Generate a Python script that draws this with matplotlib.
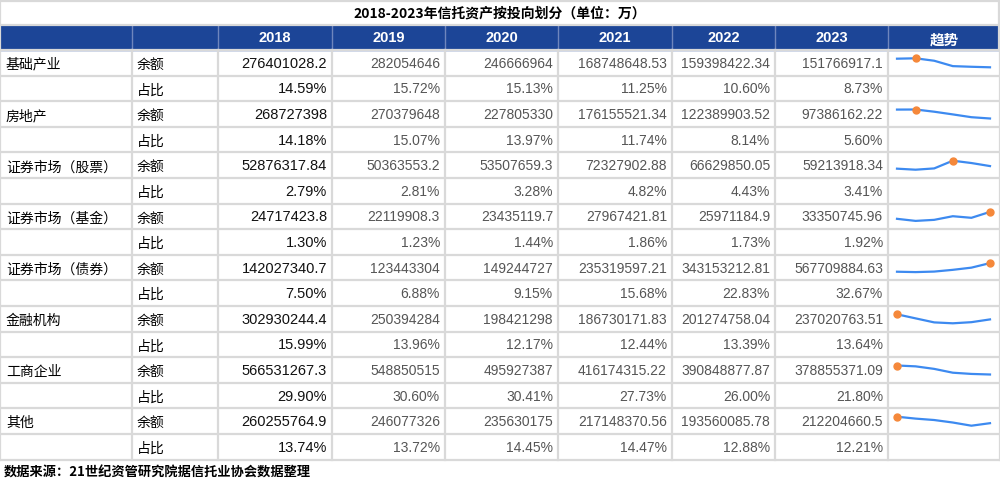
import matplotlib.pyplot as plt

years = ["2018", "2019", "2020", "2021", "2022", "2023"]
categories = ["基础产业", "房地产", "证券市场（股票）", "证券市场（基金）",
              "证券市场（债券）", "金融机构", "工商企业", "其他"]
amounts = [
    ["276401028.2", "282054646", "246666964", "168748648.53", "159398422.34", "151766917.1"],
    ["268727398", "270379648", "227805330", "176155521.34", "122389903.52", "97386162.22"],
    ["52876317.84", "50363553.2", "53507659.3", "72327902.88", "66629850.05", "59213918.34"],
    ["24717423.8", "22119908.3", "23435119.7", "27967421.81", "25971184.9", "33350745.96"],
    ["142027340.7", "123443304", "149244727", "235319597.21", "343153212.81", "567709884.63"],
    ["302930244.4", "250394284", "198421298", "186730171.83", "201274758.04", "237020763.51"],
    ["566531267.3", "548850515", "495927387", "416174315.22", "390848877.87", "378855371.09"],
    ["260255764.9", "246077326", "235630175", "217148370.56", "193560085.78", "212204660.5"],
]
shares = [
    ["14.59%", "15.72%", "15.13%", "11.25%", "10.60%", "8.73%"],
    ["14.18%", "15.07%", "13.97%", "11.74%", "8.14%", "5.60%"],
    ["2.79%", "2.81%", "3.28%", "4.82%", "4.43%", "3.41%"],
    ["1.30%", "1.23%", "1.44%", "1.86%", "1.73%", "1.92%"],
    ["7.50%", "6.88%", "9.15%", "15.68%", "22.83%", "32.67%"],
    ["15.99%", "13.96%", "12.17%", "12.44%", "13.39%", "13.64%"],
    ["29.90%", "30.60%", "30.41%", "27.73%", "26.00%", "21.80%"],
    ["13.74%", "13.72%", "14.45%", "14.47%", "12.88%", "12.21%"],
]

cjk = "Noto Sans CJK SC"
num = "Liberation Sans"
cols = [0, 132, 218, 332, 445, 558, 672, 775, 888, 1000]
top, rh = 50, 25.6
grid = "#d9d9d9"
blue = "#1c4597"

fig = plt.figure(figsize=(10, 4.84), dpi=100)
ax = fig.add_axes([0, 0, 1, 1])
ax.set_xlim(0, 1000)
ax.set_ylim(484, 0)
ax.axis("off")

ax.text(500, 14, "2018-2023年信托资产按投向划分（单位：万）", ha="center", va="center",
        fontsize=10, fontweight="bold", family=cjk)
ax.add_patch(plt.Rectangle((0, 25), 1000, 25, color=blue))
for i, y in enumerate(years):
    ax.text((cols[i + 2] + cols[i + 3]) / 2, 38, y, ha="center", va="center",
            color="white", fontsize=10.5, fontweight="bold", family=num)
ax.text((cols[8] + cols[9]) / 2, 39.5, "趋势", ha="center", va="center",
        color="white", fontsize=10.5, fontweight="bold", family=cjk)
for c in cols[1:-1]:
    ax.plot([c, c], [25, 50], color="#6f86bd", lw=1)

nrows = 2 * len(categories)
bottom = top + nrows * rh
for r in range(nrows + 1):
    ax.plot([0, 1000], [top + r * rh] * 2, color=grid, lw=1.6)
ax.plot([0, 1000], [0.5, 0.5], color=grid, lw=1.6)
ax.plot([0, 1000], [25, 25], color=grid, lw=1.6)
for c in cols:
    ax.plot([c, c], [top, bottom], color=grid, lw=1.6)
ax.plot([0, 0], [0, 50], color=grid, lw=1.6)
ax.plot([999, 999], [0, 50], color=grid, lw=1.6)

for k, cat in enumerate(categories):
    for j, (lab, vals) in enumerate([("余额", amounts[k]), ("占比", shares[k])]):
        yc = top + (2 * k + j + 0.5) * rh
        if j == 0:
            ax.text(6, yc + 2, cat, va="center", fontsize=10, family=cjk)
        ax.text(cols[1] + 5, yc + 2, lab, va="center", fontsize=10, family=cjk)
        for i, v in enumerate(vals):
            ax.text(cols[i + 3] - 5, yc + 1, v, ha="right", va="center",
                    fontsize=10.5 if i == 0 else 10, family=num,
                    color="#111111" if i == 0 else "#555555")
    # sparkline
    yc = top + (2 * k + 0.5) * rh
    v = [float(s) for s in amounts[k]]
    lo, hi = min(v), max(v)
    xs = [897 + i * (990 - 897) / 5 for i in range(6)]
    ys = [yc + 4.5 - 9 * (x - lo) / (hi - lo) for x in v]
    ax.plot(xs, ys, color="#3d8af0", lw=1.6)
    m = v.index(hi)
    ax.plot(xs[m], ys[m], "o", color="#f5883a", ms=5)

ax.text(4, 473, "数据来源：21世纪资管研究院据信托业协会数据整理", va="center",
        fontsize=9.5, fontweight="bold", family=cjk)

fig.savefig("out.png")
